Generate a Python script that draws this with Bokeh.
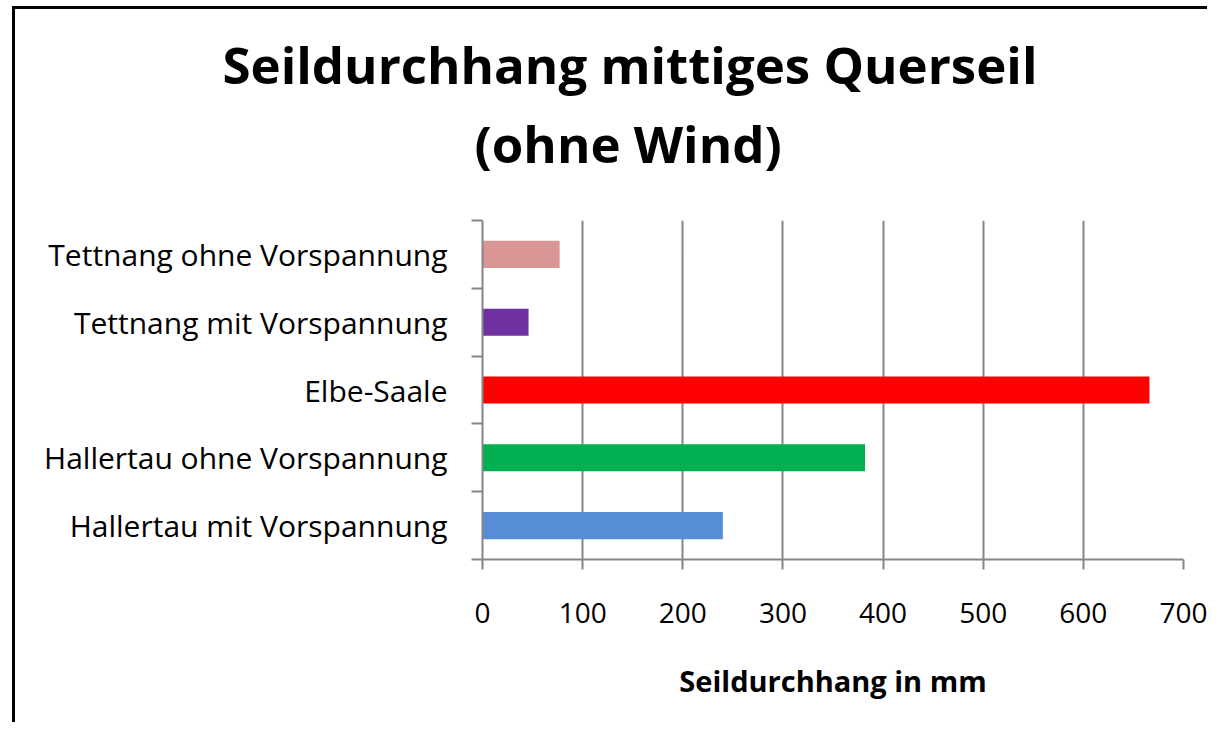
from bokeh.plotting import figure
from bokeh.models import (Range1d, LinearAxis, FixedTicker,
                          ColumnDataSource, Title, Grid)
from bokeh.embed import file_html
from bokeh.resources import INLINE

# ---- data ----
categories = ["Tettnang ohne Vorspannung", "Tettnang mit Vorspannung", "Elbe-Saale",
              "Hallertau ohne Vorspannung", "Hallertau mit Vorspannung"]
values = [77, 46, 666, 382, 240]
colors = ["#D99694", "#7030A0", "#FF0000", "#00B050", "#558ED5"]
x_ticks = [0, 100, 200, 300, 400, 500, 600, 700]
title_lines = ["Seildurchhang mittiges Querseil", "(ohne Wind)"]
x_title = "Seildurchhang in mm"

GRAY = "#868686"
FONT = "Open Sans"

n = len(categories)
# category slots: first category at the top
centers = [n - 0.5 - i for i in range(n)]
bounds = list(range(n + 1))
src = ColumnDataSource(dict(y=centers, val=values, color=colors))

p = figure(width=1195, height=716, title=None,
           y_range=Range1d(0, n),
           x_range=Range1d(x_ticks[0], x_ticks[-1]),
           output_backend="svg", toolbar_location=None,
           x_axis_location=None, y_axis_location=None,
           min_border_left=467, min_border_right=27,
           min_border_top=211, min_border_bottom=166)
p.outline_line_color = None
p.background_fill_color = "white"
p.border_fill_color = "white"
p.center = [r for r in p.center if not isinstance(r, Grid)]
p.styles = {"border-top": "3px solid black", "border-left": "3px solid black",
            "margin-left": "12px", "margin-top": "6px"}

p.hbar(y="y", left=0, right="val", height=0.4, fill_color="color",
       line_color=None, source=src)

# x axis
xa = LinearAxis(ticker=FixedTicker(ticks=x_ticks))
xa.axis_line_color = GRAY
xa.axis_line_width = 2
xa.major_tick_line_color = GRAY
xa.major_tick_line_width = 2
xa.major_tick_out = 10
xa.major_tick_in = 0
xa.minor_tick_line_color = None
xa.major_label_text_font = FONT
xa.major_label_text_font_size = "28px"
xa.major_label_text_color = "black"
xa.major_label_standoff = 33
xa.axis_label = x_title
xa.axis_label_text_font = FONT
xa.axis_label_text_font_style = "bold"
xa.axis_label_text_font_size = "29px"
xa.axis_label_text_color = "black"
xa.axis_label_standoff = 35
p.add_layout(xa, "below")

p.add_layout(Grid(dimension=0, ticker=xa.ticker, grid_line_color=GRAY,
                  grid_line_width=2))

# y axis: labels at category centres, tick marks at category boundaries
ya = LinearAxis(ticker=FixedTicker(ticks=centers, minor_ticks=bounds),
                major_label_overrides={c: cat for c, cat in zip(centers, categories)},
                axis_line_color=GRAY, axis_line_width=2,
                major_tick_line_color=None, major_tick_out=0, major_tick_in=0,
                minor_tick_line_color=GRAY, minor_tick_line_width=2,
                minor_tick_out=11, minor_tick_in=0,
                major_label_text_font=FONT, major_label_text_font_size="30px",
                major_label_text_color="black", major_label_standoff=24)
p.add_layout(ya, "left")

# title (two lines)
t2 = Title(text=title_lines[1], align="left", offset=-8, standoff=86,
           text_font=FONT, text_font_style="bold", text_font_size="51px",
           text_color="black")
t1 = Title(text=title_lines[0], align="left", offset=-260, standoff=-72,
           text_font=FONT, text_font_style="bold", text_font_size="51px",
           text_color="black")
p.add_layout(t2, "above")
p.add_layout(t1, "above")

open("out.html", "w").write(file_html(p, INLINE))
